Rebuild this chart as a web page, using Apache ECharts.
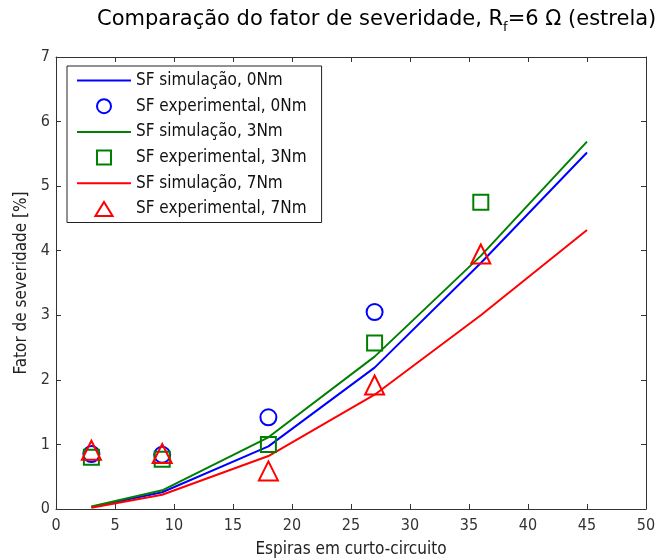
<!DOCTYPE html>
<html>
<head>
<meta charset="utf-8">
<script src="https://cdn.jsdelivr.net/npm/echarts@6/dist/echarts.min.js"></script>
<style>html,body{margin:0;padding:0;background:#fff}#c{width:658px;height:558px}</style>
</head>
<body>
<div id="c"></div>
<script>
const simX = [3, 9, 18, 27, 36, 45];
const sim0 = [0.03, 0.26, 0.97, 2.19, 3.81, 5.52];
const sim3 = [0.04, 0.29, 1.11, 2.36, 3.92, 5.69];
const sim7 = [0.02, 0.22, 0.82, 1.77, 3.0, 4.32];
const expX0 = [3, 9, 18, 27];
const exp0 = [0.85, 0.84, 1.42, 3.05];
const expX3 = [3, 9, 18, 27, 36];
const exp3 = [0.8, 0.77, 1.0, 2.57, 4.75];
const expX7 = [3, 9, 18, 27, 36];
const exp7 = [0.91, 0.86, 0.59, 1.92, 3.95];
const xTicks = [0, 5, 10, 15, 20, 25, 30, 35, 40, 45, 50];
const yTicks = [0, 1, 2, 3, 4, 5, 6, 7];

const pair = (xs, ys) => xs.map((x, i) => [x, ys[i]]);
const FONT = 'DejaVu Sans';
const CFONT = '"DejaVu Sans Condensed", "DejaVu Sans"';
const NFONT = '"Liberation Sans Narrow", "DejaVu Sans Condensed", sans-serif';
const chart = echarts.init(document.getElementById('c'));
const lineS = (name, color, d) => ({
  name, type: 'line', data: d, symbol: 'none', showSymbol: false,
  lineStyle: { color, width: 2 }, itemStyle: { color }, z: 2, animation: false
});
const scatS = (name, color, symbol, size, d) => ({
  name, type: 'scatter', data: d, symbol, symbolSize: size,
  itemStyle: { color: 'rgba(255,255,255,0)', borderColor: color, borderWidth: 2, opacity: 1 }, z: 3, animation: false
});
const LINE_ICON = 'path://M0,0H54V2H0Z';
const SQ_ICON = 'path://M0,0H12V12H0Z';
const TRI_ICON = 'path://M8,0L16,13H0Z';
const axLine = { show: true, onZero: false, lineStyle: { color: '#333', width: 1 } };
const axTick = { show: true, inside: true, length: 5, lineStyle: { color: '#333' } };
chart.setOption({
  animation: false,
  title: {
    text: '{a|Comparação do fator de severidade, R}{s|f}{a|=6 Ω (estrela)}',
    left: 92, top: 0,
    textStyle: {
      rich: {
        a: { fontFamily: FONT, fontSize: 21, fontWeight: 'normal', color: '#000' },
        s: { fontFamily: FONT, fontSize: 13, fontWeight: 'normal', color: '#000', padding: [16, 0, 0, 0] }
      }
    }
  },
  grid: { left: 56, right: 12, top: 57, bottom: 49, containLabel: false, outerBoundsMode: 'none' },
  legend: {
    orient: 'vertical', left: 67, top: 66, padding: [6, 15, 5, 10],
    itemWidth: 54, itemHeight: 14, itemGap: 8.7,
    borderColor: '#222', borderWidth: 1, backgroundColor: '#fff',
    textStyle: { fontFamily: CFONT, fontSize: 17, color: '#111' },
    data: [
      { name: 'SF simulação, 0Nm', icon: LINE_ICON },
      { name: 'SF experimental, 0Nm', icon: 'circle' },
      { name: 'SF simulação, 3Nm', icon: LINE_ICON },
      { name: 'SF experimental, 3Nm', icon: SQ_ICON },
      { name: 'SF simulação, 7Nm', icon: LINE_ICON },
      { name: 'SF experimental, 7Nm', icon: TRI_ICON }
    ]
  },
  xAxis: [{
    type: 'value', min: 0, max: 50, interval: 5,
    name: 'Espiras em curto-circuito', nameLocation: 'middle', nameGap: 32,
    nameTextStyle: { fontFamily: CFONT, fontSize: 17, color: '#222' },
    axisLine: axLine, axisTick: axTick,
    axisLabel: { fontFamily: NFONT, fontSize: 16, color: '#333', margin: 9,
      formatter: v => xTicks.includes(v) ? String(v) : '' },
    splitLine: { show: false }
  }, {
    type: 'value', min: 0, max: 50, interval: 5, position: 'top',
    axisLine: axLine, axisTick: axTick,
    axisLabel: { show: false }, splitLine: { show: false }
  }],
  yAxis: [{
    type: 'value', min: 0, max: 7, interval: 1,
    name: 'Fator de severidade [%]', nameLocation: 'middle', nameGap: 26,
    nameTextStyle: { fontFamily: CFONT, fontSize: 17, color: '#222' },
    axisLine: axLine, axisTick: axTick,
    axisLabel: { fontFamily: NFONT, fontSize: 16, color: '#333', margin: 6,
      formatter: v => yTicks.includes(v) ? String(v) : '' },
    splitLine: { show: false }
  }, {
    type: 'value', min: 0, max: 7, interval: 1, position: 'right',
    axisLine: axLine, axisTick: axTick,
    axisLabel: { show: false }, splitLine: { show: false }
  }],
  series: [
    lineS('SF simulação, 0Nm', '#0000ff', pair(simX, sim0)),
    scatS('SF experimental, 0Nm', '#0000ff', 'circle', 16, pair(expX0, exp0)),
    lineS('SF simulação, 3Nm', '#008000', pair(simX, sim3)),
    scatS('SF experimental, 3Nm', '#008000', 'rect', 15, pair(expX3, exp3)),
    lineS('SF simulação, 7Nm', '#ff0000', pair(simX, sim7)),
    scatS('SF experimental, 7Nm', '#ff0000', 'triangle', 19, pair(expX7, exp7))
  ]
});
</script>
</body>
</html>
